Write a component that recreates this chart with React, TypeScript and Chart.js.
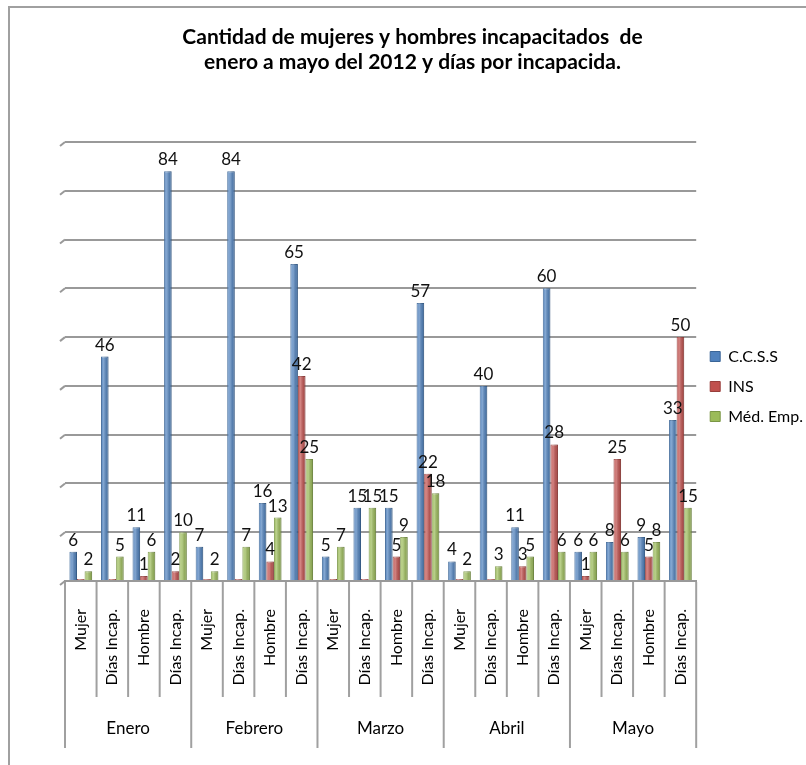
import React, { useEffect, useRef } from "react";
import { Chart, registerables } from "chart.js";

Chart.register(...registerables);

const months = ["Enero", "Febrero", "Marzo", "Abril", "Mayo"];
const subLabels = [
  "Mujer", "Días Incap.", "Hombre", "Días Incap.",
  "Mujer", "Días Incap.", "Hombre", "Días Incap.",
  "Mujer", "Días Incap.", "Hombre", "Días Incap.",
  "Mujer", "Días Incap.", "Hombre", "Días Incap.",
  "Mujer", "Días Incap.", "Hombre", "Días Incap.",
];
const ccss = [6, 46, 11, 84, 7, 84, 16, 65, 5, 15, 15, 57, 4, 40, 11, 60, 6, 8, 9, 33];
const ins = [0, 0, 1, 2, 0, 0, 4, 42, 0, 0, 5, 22, 0, 0, 3, 28, 1, 25, 5, 50];
const medEmp = [2, 5, 6, 10, 2, 7, 13, 25, 7, 15, 9, 18, 2, 3, 5, 6, 6, 6, 8, 15];
const seriesNames = ["C.C.S.S", "INS", "Méd. Emp."];
const titleLines = [
  "Cantidad de mujeres y hombres incapacitados  de",
  "enero a mayo del 2012 y días por incapacida.",
];

const FONT = "Lato, 'Noto Sans', sans-serif";

const decorPlugin = {
  id: "decor",
  afterDatasetsDraw(chart: any) {
    const ctx = chart.ctx;
    ctx.save();
    chart.data.datasets.forEach((ds: any, di: number) => {
      const meta = chart.getDatasetMeta(di);
      meta.data.forEach((el: any) => {
        const w = el.width;
        const left = el.x - w / 2;
        const top = Math.min(el.y, el.base);
        const h = Math.abs(el.base - el.y);
        if (h < 1) return;
        const g = ctx.createLinearGradient(left, 0, left + w, 0);
        g.addColorStop(0, "rgba(255,255,255,0.05)");
        g.addColorStop(0.35, "rgba(255,255,255,0.3)");
        g.addColorStop(1, "rgba(0,0,0,0.12)");
        ctx.fillStyle = g;
        ctx.fillRect(left, top, w, h);
      });
    });
    ctx.font = `17px ${FONT}`;
    ctx.fillStyle = "#111";
    ctx.textAlign = "center";
    ctx.textBaseline = "bottom";
    chart.data.datasets.forEach((ds: any, di: number) => {
      const meta = chart.getDatasetMeta(di);
      meta.data.forEach((el: any, j: number) => {
        const v = ds.data[j];
        if (!v) return;
        ctx.fillText(String(v), el.x, el.y - 3);
      });
    });
    ctx.restore();
  },
  afterDraw(chart: any) {
    const ctx = chart.ctx;
    const xs = chart.scales.x;
    const x2 = chart.scales.x2;
    const ys = chart.scales.y;
    const n = subLabels.length;
    const per = n / months.length;
    const step = (xs.right - xs.left) / n;
    ctx.save();
    ctx.strokeStyle = "#a0a0a0";
    ctx.lineWidth = 2;
    for (let i = 0; i <= n; i++) {
      const px = xs.left + i * step;
      ctx.beginPath();
      ctx.moveTo(px, xs.top + 1);
      ctx.lineTo(px, i % per === 0 ? x2.bottom : xs.bottom);
      ctx.stroke();
    }
    ctx.strokeStyle = "#999";
    ys.ticks.forEach((t: any) => {
      const py = ys.getPixelForValue(t.value);
      ctx.beginPath();
      ctx.moveTo(chart.chartArea.left, py);
      ctx.lineTo(chart.chartArea.left - 5, py + 4);
      ctx.stroke();
    });
    ctx.restore();
  },
};

export default function App() {
  const ref = useRef<HTMLCanvasElement | null>(null);
  useEffect(() => {
    if (!ref.current) return;
    const chart = new Chart(ref.current, {
      type: "bar",
      data: {
        labels: subLabels,
        datasets: [
          { label: seriesNames[0], data: ccss, backgroundColor: "#4F81BD", borderColor: "#3A6597", borderWidth: 1, minBarLength: 2 },
          { label: seriesNames[1], data: ins, backgroundColor: "#C0504D", borderColor: "#983E3B", borderWidth: 1, minBarLength: 2 },
          { label: seriesNames[2], data: medEmp, backgroundColor: "#9BBB59", borderColor: "#7A9645", borderWidth: 1, minBarLength: 2 },
        ],
      },
      options: {
        responsive: false,
        animation: false,
        layout: { padding: { top: 25, bottom: 17, left: 12, right: -7 } },
        datasets: { bar: { categoryPercentage: 0.72, barPercentage: 1.0 } },
        plugins: {
          title: {
            display: true,
            text: titleLines,
            color: "#000",
            font: { family: FONT, size: 21, weight: "bold", lineHeight: 1.19 },
            padding: { top: 0, bottom: 67 },
          },
          legend: {
            position: "right",
            align: "center",
            labels: {
              boxWidth: 10,
              boxHeight: 10,
              padding: 14,
              color: "#000",
              font: { family: FONT, size: 16 },
            },
          },
          tooltip: { enabled: false },
        },
        scales: {
          x: {
            type: "category",
            labels: subLabels,
            offset: true,
            grid: { display: false },
            border: { display: true, color: "#999", width: 2 },
            ticks: {
              autoSkip: false,
              minRotation: 90,
              maxRotation: 90,
              padding: 20,
              color: "#000",
              font: { family: FONT, size: 16 },
            },
            afterFit: (s: any) => { s.height = 116; },
          },
          x2: {
            type: "category",
            labels: months,
            position: "bottom",
            weight: 1,
            offset: true,
            grid: { display: false },
            border: { display: false },
            ticks: { padding: 13, color: "#000", font: { family: FONT, size: 17 } },
            afterFit: (s: any) => { s.height = 51; },
          },
          y: {
            min: 0,
            max: 90,
            ticks: { display: false, stepSize: 10 },
            grid: { color: "#999", lineWidth: 2, drawTicks: false },
            border: { display: false },
            afterFit: (s: any) => { s.width = 53; },
          },
        },
      },
      plugins: [decorPlugin],
    } as any);
    return () => chart.destroy();
  }, []);
  return (
    <>
      <div
        style={{
          position: "absolute",
          left: 8,
          top: 6,
          width: 796,
          height: 757,
          borderLeft: "2px solid #a0a0a0",
          borderTop: "2px solid #a0a0a0",
        }}
      />
      <canvas
        ref={ref}
        width={806}
        height={765}
        style={{ position: "absolute", left: 0, top: 0, width: 806, height: 765 }}
      />
    </>
  );
}
